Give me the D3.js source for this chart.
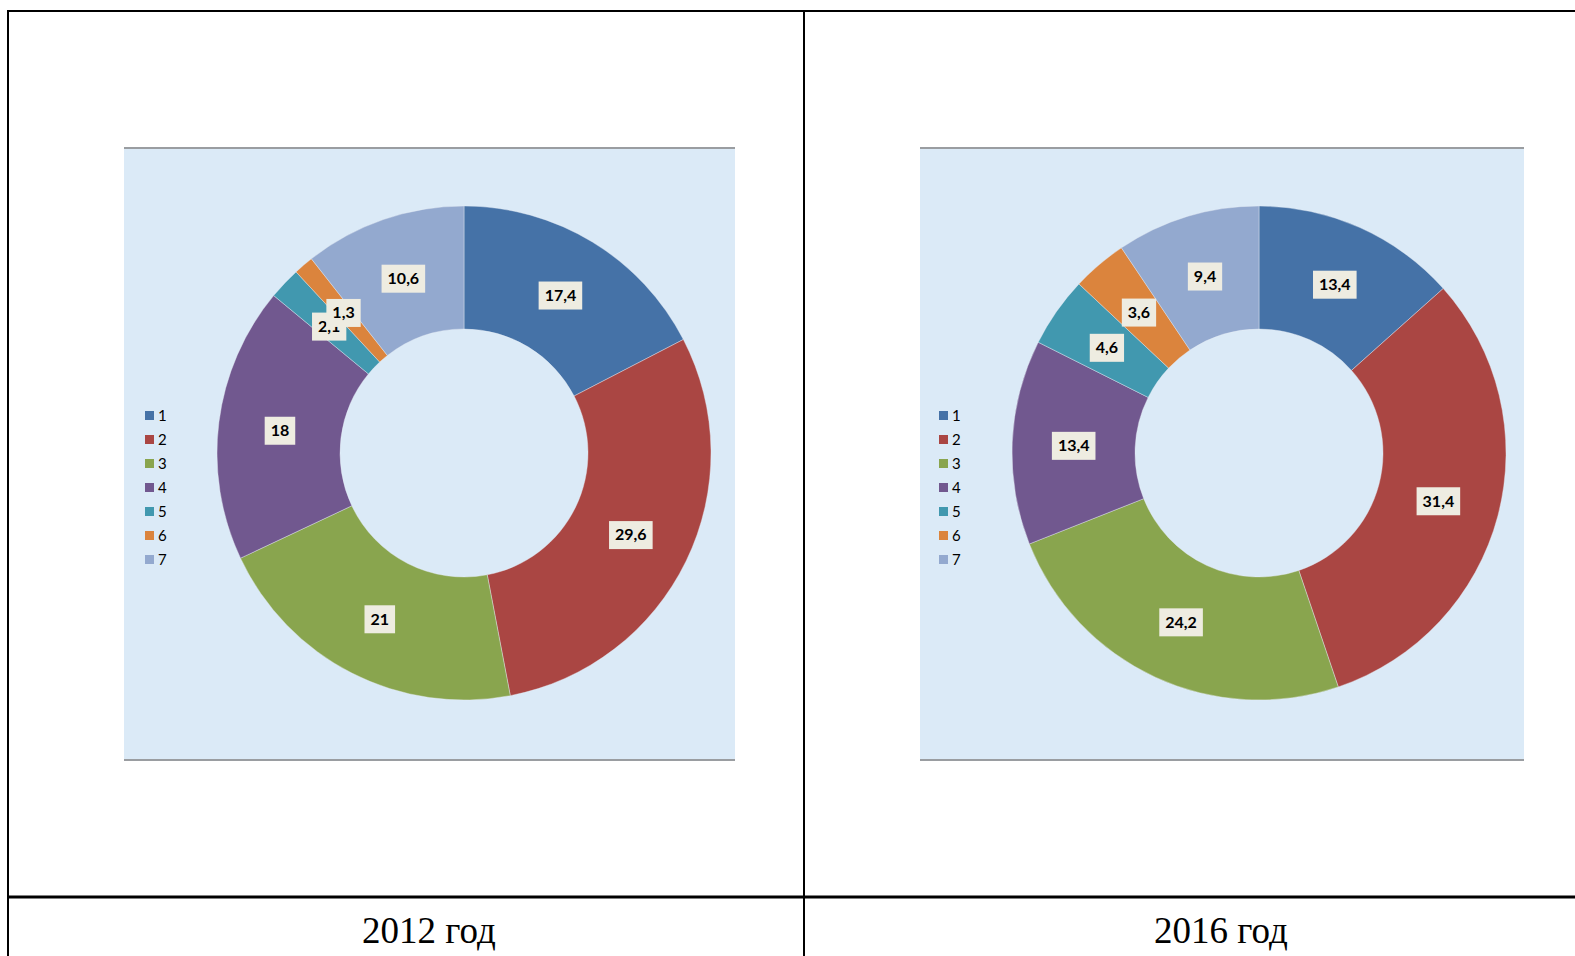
<!DOCTYPE html>
<html>
<head>
<meta charset="utf-8">
<script src="https://cdn.jsdelivr.net/npm/d3@7/dist/d3.min.js"></script>
<style>
  body { margin: 0; background: #fff; }
  svg { display: block; }
</style>
</head>
<body>
<svg id="chart" width="1575" height="956"></svg>
<script>
const categories = ["1", "2", "3", "4", "5", "6", "7"];
const values2012 = [17.4, 29.6, 21, 18, 2.1, 1.3, 10.6];
const values2016 = [13.4, 31.4, 24.2, 13.4, 4.6, 3.6, 9.4];
const years = ["2012 год", "2016 год"];
const colors = ["#4572A7", "#AA4643", "#89A54E", "#71588F", "#4198AF", "#DB843D", "#93A9CF"];

const svg = d3.select("#chart");

// panels: plot area box, legend x, caption x
const panels = [
    { values: values2012, left: 124, right: 735, cx: 464, legendX: 145, captionX: 429, year: years[0] },
    { values: values2016, left: 920, right: 1524, cx: 1259, legendX: 939, captionX: 1221, year: years[1] }
];
const plotTop = 148, plotBottom = 760, cy = 453;
const outerR = 247, innerR = 124;

const color = d3.scaleOrdinal().domain(categories).range(colors);
const legendY = d3.scalePoint().domain(categories).range([415, 559]);

const pie = d3.pie().sort(null).value(d => d.v);
const arc = d3.arc().innerRadius(innerR).outerRadius(outerR);
const labelArc = d3.arc().innerRadius((innerR + outerR) / 2).outerRadius((innerR + outerR) / 2);

panels.forEach(p => {
    const g = svg.append("g");

    // plot background
    g.append("rect")
        .attr("x", p.left).attr("y", plotTop)
        .attr("width", p.right - p.left).attr("height", plotBottom - plotTop)
        .attr("fill", "#DBEAF7");
    [plotTop, plotBottom].forEach(y => {
        g.append("line")
            .attr("x1", p.left).attr("x2", p.right)
            .attr("y1", y).attr("y2", y)
            .attr("stroke", "#9a9da1").attr("stroke-width", 2);
    });

    const data = categories.map((c, i) => ({ c: c, v: p.values[i] }));
    const arcs = pie(data);

    const donut = g.append("g").attr("transform", `translate(${p.cx},${cy})`);
    donut.selectAll("path")
        .data(arcs)
        .enter()
        .append("path")
        .attr("d", arc)
        .attr("fill", d => color(d.data.c))
        .attr("stroke", "#e8eef5")
        .attr("stroke-width", 0.4);

    // data labels
    const labels = donut.selectAll("g.lbl")
        .data(arcs)
        .enter()
        .append("g")
        .attr("class", "lbl")
        .attr("transform", d => `translate(${labelArc.centroid(d)})`);
    labels.append("rect");
    labels.append("text")
        .text(d => String(d.data.v).replace(".", ","))
        .attr("text-anchor", "middle")
        .attr("dy", "0.4em")
        .attr("font-family", "Lato, 'Open Sans', sans-serif")
        .attr("font-weight", "bold")
        .attr("font-size", 16)
        .attr("fill", "#000");
    labels.each(function() {
        const t = d3.select(this).select("text").node().getBBox();
        d3.select(this).select("rect")
            .attr("x", -t.width / 2 - 6).attr("y", -13)
            .attr("width", t.width + 12).attr("height", 28)
            .attr("fill", "#EEECE1");
    });

    // legend
    const leg = g.selectAll("g.leg")
        .data(categories)
        .enter()
        .append("g")
        .attr("class", "leg")
        .attr("transform", d => `translate(${p.legendX},${legendY(d)})`);
    leg.append("rect")
        .attr("x", 0).attr("y", -4)
        .attr("width", 9).attr("height", 9)
        .attr("fill", d => color(d));
    leg.append("text")
        .text(d => d)
        .attr("x", 13).attr("dy", "0.38em")
        .attr("font-family", "Lato, 'Open Sans', sans-serif")
        .attr("font-size", 15)
        .attr("fill", "#000");

    // caption
    g.append("text")
        .text(p.year)
        .attr("x", p.captionX).attr("y", 943)
        .attr("text-anchor", "middle")
        .attr("font-family", "'Liberation Serif', 'Times New Roman', serif")
        .attr("font-size", 37)
        .attr("fill", "#000");
});

// table lines
const lines = [
    [8, 11, 1575, 11, 2],
    [8, 10, 8, 956, 2],
    [804, 10, 804, 956, 2],
    [8, 897, 1575, 897, 3]
];
svg.selectAll("line.tbl")
    .data(lines)
    .enter()
    .append("line")
    .attr("class", "tbl")
    .attr("x1", d => d[0]).attr("y1", d => d[1])
    .attr("x2", d => d[2]).attr("y2", d => d[3])
    .attr("stroke", "#000")
    .attr("stroke-width", d => d[4]);
</script>
</body>
</html>
